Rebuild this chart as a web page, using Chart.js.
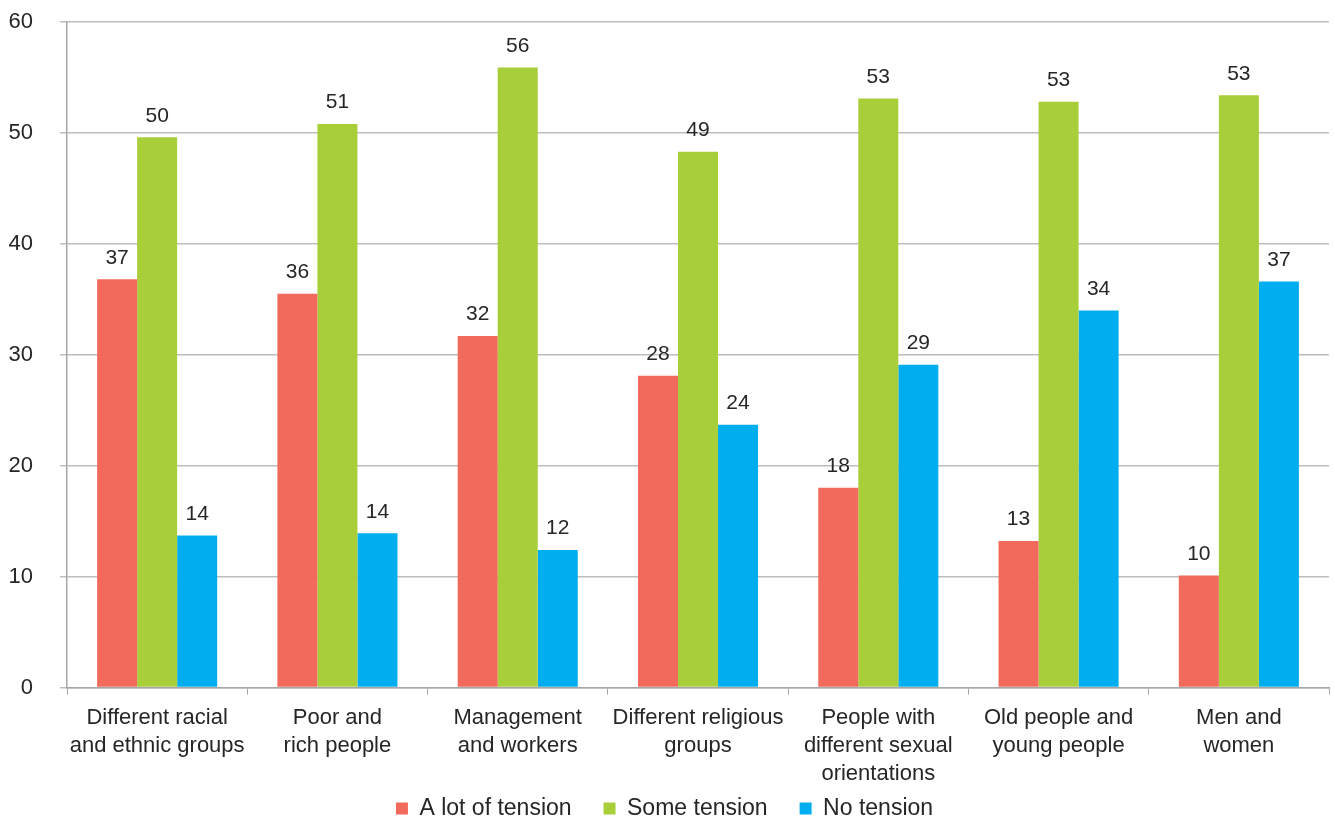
<!DOCTYPE html>
<html lang="en">
<head>
  <meta charset="UTF-8">
  <script src="https://cdn.jsdelivr.net/npm/chart.js"></script>
  <style>
    body { margin: 0; background: #fff; }
    #wrap { width: 1335px; height: 819px; }
  </style>
</head>
<body>
<div id="wrap"><canvas id="chart"></canvas></div>
<script>
  // categories (multi-line labels)
  const categories = [
    ["Different racial", "and ethnic groups"],
    ["Poor and", "rich people"],
    ["Management", "and workers"],
    ["Different religious", "groups"],
    ["People with", "different sexual", "orientations"],
    ["Old people and", "young people"],
    ["Men and", "women"]
  ];
  const seriesNames = ["A lot of tension", "Some tension", "No tension"];
  const seriesColors = ["#F26A5B", "#A8CE3A", "#00AEEF"];

  // bar heights
  const aLotOfTension = [36.8, 35.5, 31.7, 28.1, 18.0, 13.2, 10.1];
  const someTension   = [49.6, 50.8, 55.9, 48.3, 53.1, 52.8, 53.4];
  const noTension     = [13.7, 13.9, 12.4, 23.7, 29.1, 34.0, 36.6];

  // printed labels above bars
  const aLotLabels = [37, 36, 32, 28, 18, 13, 10];
  const someLabels = [50, 51, 56, 49, 53, 53, 53];
  const noLabels   = [14, 14, 12, 24, 29, 34, 37];

  const yTicks = [0, 10, 20, 30, 40, 50, 60];

  const values = [aLotOfTension, someTension, noTension];
  const labels = [aLotLabels, someLabels, noLabels];

  const FONT = "'Liberation Sans', Arial, sans-serif";
  const TEXT = "#262626";

  // draws the value labels above each bar
  const barLabels = {
    id: 'barLabels',
    afterDatasetsDraw(chart) {
      const ctx = chart.ctx;
      ctx.save();
      ctx.font = "21px " + FONT;
      ctx.fillStyle = TEXT;
      ctx.textAlign = 'center';
      ctx.textBaseline = 'bottom';
      chart.data.datasets.forEach((ds, i) => {
        chart.getDatasetMeta(i).data.forEach((bar, j) => {
          ctx.fillText(labels[i][j], bar.x, bar.y - 11);
        });
      });
      ctx.restore();
    }
  };

  new Chart(document.getElementById('chart'), {
    type: 'bar',
    data: {
      labels: categories,
      datasets: seriesNames.map((name, i) => ({
        label: name,
        data: values[i],
        backgroundColor: seriesColors[i],
        borderWidth: 0,
        barPercentage: 1,
        categoryPercentage: 0.666
      }))
    },
    options: {
      responsive: true,
      maintainAspectRatio: false,
      animation: false,
      layout: { padding: { top: 22, right: 6, left: 0, bottom: -11 } },
      plugins: {
        legend: {
          position: 'bottom',
          labels: {
            font: { family: FONT, size: 23 },
            color: TEXT,
            boxWidth: 12,
            boxHeight: 12,
            padding: 0,
            // trailing spaces widen the gap between items without making the legend taller
            generateLabels(chart) {
              const items = Chart.defaults.plugins.legend.labels.generateLabels(chart);
              items.forEach((it, i) => {
                if (i < items.length - 1) it.text = it.text + '     ';
              });
              return items;
            }
          }
        },
        tooltip: { enabled: false }
      },
      scales: {
        x: {
          grid: {
            display: true,
            drawOnChartArea: false,
            offset: true,
            color: '#A6A6A6',
            tickLength: 7
          },
          border: { color: '#A6A6A6', width: 1.5 },
          ticks: {
            font: { family: FONT, size: 22, lineHeight: 1.28 },
            color: TEXT,
            maxRotation: 0,
            padding: 9
          }
        },
        y: {
          min: 0,
          max: 60,
          afterBuildTicks(scale) {
            scale.ticks = yTicks.map(v => ({ value: v }));
          },
          afterFit(scale) {
            scale.width = 67;
            scale.paddingTop = 0;
            scale.paddingBottom = 0;
          },
          grid: {
            color: '#BDBDBD',
            lineWidth: 1.5,
            tickLength: 7
          },
          border: { color: '#A6A6A6', width: 1.5 },
          ticks: {
            font: { family: FONT, size: 22 },
            color: TEXT,
            padding: 27
          }
        }
      }
    },
    plugins: [barLabels]
  });
</script>
</body>
</html>
